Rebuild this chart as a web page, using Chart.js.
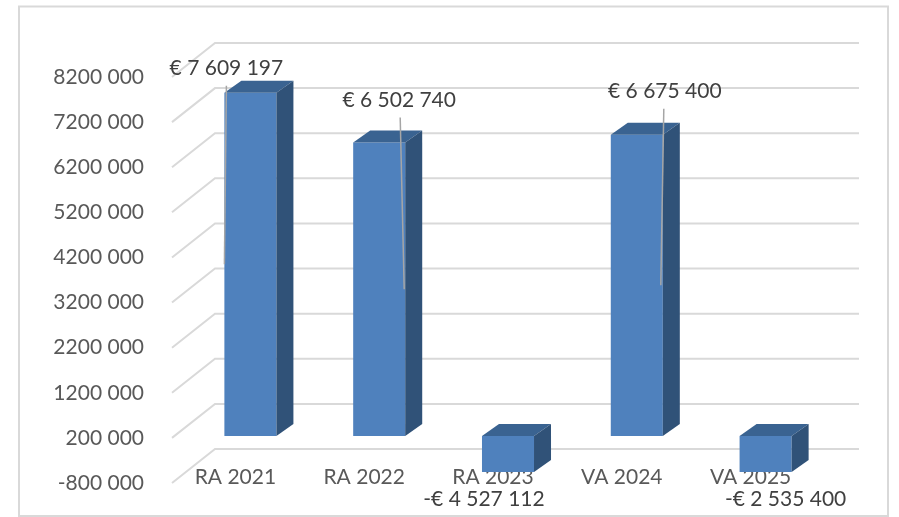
<!DOCTYPE html>
<html lang="en">
<head>
<meta charset="UTF-8">
<title>RA VA</title>
<script src="https://cdn.jsdelivr.net/npm/chart.js"></script>
<style>
    body { margin: 0; background: #fff; }
</style>
</head>
<body>
<canvas id="chart" width="899" height="517"></canvas>
<script>
const categories = ['RA 2021', 'RA 2022', 'RA 2023', 'VA 2024', 'VA 2025'];
const values = [7609197, 6502740, -4527112, 6675400, -2535400];
const dataLabels = ['€ 7 609 197', '€ 6 502 740', '-€ 4 527 112', '€ 6 675 400', '-€ 2 535 400'];
const tickLabels = ['-800 000', '200 000', '1200 000', '2200 000', '3200 000', '4200 000', '5200 000', '6200 000', '7200 000', '8200 000'];

const FONT = 'Lato, "Open Sans", sans-serif';

// the fake 3d: how far the back wall and the front edge are from the bars plane
const back = { x: 29, y: -23 };
const front = { x: -14, y: 11 };
const depth = { x: 17, y: -12 };

// label place relative to the bar, leader is from (sx, sy) to (ex, value / 2)
const labelPlaces = [
    { dx: -24, dy: -24, sx: -24, sy: -7, ex: -26 },
    { dx: 20, dy: -42, sx: 21, sy: -25, ex: 25 },
    { dx: -24, dy: 27 },
    { dx: 28, dy: -44, sx: 27, sy: -26, ex: 24 },
    { dx: 20, dy: 27 }
];

function poly(ctx, color, pts) {
    ctx.fillStyle = color;
    ctx.beginPath();
    ctx.moveTo(pts[0][0], pts[0][1]);
    for (let i = 1; i < pts.length; i++) ctx.lineTo(pts[i][0], pts[i][1]);
    ctx.closePath();
    ctx.fill();
}

const frame3d = {
    id: 'frame3d',
    beforeDraw(chart) {
        const ctx = chart.ctx;
        ctx.save();
        ctx.strokeStyle = '#d9d9d9';
        ctx.lineWidth = 2;
        ctx.strokeRect(19, 6.5, 869, 509.5);
        ctx.restore();
    },
    beforeDatasetsDraw(chart) {
        const ctx = chart.ctx;
        const a = chart.chartArea;
        const y = chart.scales.y;
        ctx.save();
        ctx.strokeStyle = '#d9d9d9';
        ctx.lineWidth = 2;
        y.ticks.forEach(t => {
            const p = y.getPixelForValue(t.value);
            ctx.beginPath();
            ctx.moveTo(a.left + front.x, p + front.y);
            ctx.lineTo(a.left + back.x, p + back.y);
            ctx.lineTo(a.right + back.x, p + back.y);
            ctx.stroke();
        });
        ctx.restore();
    },
    afterDatasetsDraw(chart) {
        const ctx = chart.ctx;
        const a = chart.chartArea;
        ctx.save();
        chart.getDatasetMeta(0).data.forEach(bar => {
            const l = bar.x - bar.width / 2;
            const r = bar.x + bar.width / 2;
            const top = Math.min(bar.y, bar.base);
            const bottom = Math.min(Math.max(bar.y, bar.base), a.bottom);
            poly(ctx, '#3a6391', [[l, top], [r, top], [r + depth.x, top + depth.y], [l + depth.x, top + depth.y]]);
            poly(ctx, '#305278', [[r, top], [r + depth.x, top + depth.y], [r + depth.x, bottom + depth.y], [r, bottom]]);
        });
        ctx.restore();
    },
    afterDraw(chart) {
        const ctx = chart.ctx;
        const a = chart.chartArea;
        const y = chart.scales.y;
        ctx.save();
        chart.getDatasetMeta(0).data.forEach((bar, i) => {
            const place = labelPlaces[i];
            const anchor = Math.min(bar.y, a.bottom);
            if (place.sx !== undefined) {
                ctx.strokeStyle = '#a6a6a6';
                ctx.lineWidth = 1.5;
                ctx.beginPath();
                ctx.moveTo(bar.x + place.sx, anchor + place.sy);
                ctx.lineTo(bar.x + place.ex, y.getPixelForValue(values[i] / 2));
                ctx.stroke();
            }
            ctx.fillStyle = '#404040';
            ctx.font = '21px ' + FONT;
            ctx.textAlign = 'center';
            ctx.textBaseline = 'middle';
            ctx.fillText(dataLabels[i], bar.x + place.dx, anchor + place.dy);
        });
        ctx.restore();
    }
};

new Chart(document.getElementById('chart'), {
    type: 'bar',
    data: {
        labels: categories,
        datasets: [{
            data: values,
            backgroundColor: '#4f81bd',
            barPercentage: 0.404,
            categoryPercentage: 1
        }]
    },
    options: {
        responsive: false,
        animation: false,
        layout: { padding: { top: 66, right: 69, left: 0, bottom: 0 } },
        plugins: { legend: { display: false }, tooltip: { enabled: false } },
        scales: {
            x: {
                z: 1,
                grid: { display: false, drawTicks: false },
                border: { display: false },
                afterFit(scale) { scale.height = 45; },
                ticks: {
                    color: '#595959',
                    font: { family: FONT, size: 21 },
                    // mirror, else the labels get clipped at the top of the axis box
                    mirror: true,
                    padding: -18,
                    labelOffset: front.x - 1,
                    maxRotation: 0
                }
            },
            y: {
                min: -800000,
                max: 8200000,
                grid: { display: false, drawTicks: false },
                border: { display: false },
                // tick padding also gets added above and below the axis, drop that
                afterFit(scale) {
                    scale.width = 186;
                    scale.paddingTop = 0;
                    scale.paddingBottom = 0;
                },
                ticks: {
                    stepSize: 1000000,
                    color: '#595959',
                    font: { family: FONT, size: 21 },
                    padding: 42,
                    labelOffset: front.y,
                    callback: (v, i) => tickLabels[i]
                }
            }
        }
    },
    plugins: [frame3d]
});
</script>
</body>
</html>
